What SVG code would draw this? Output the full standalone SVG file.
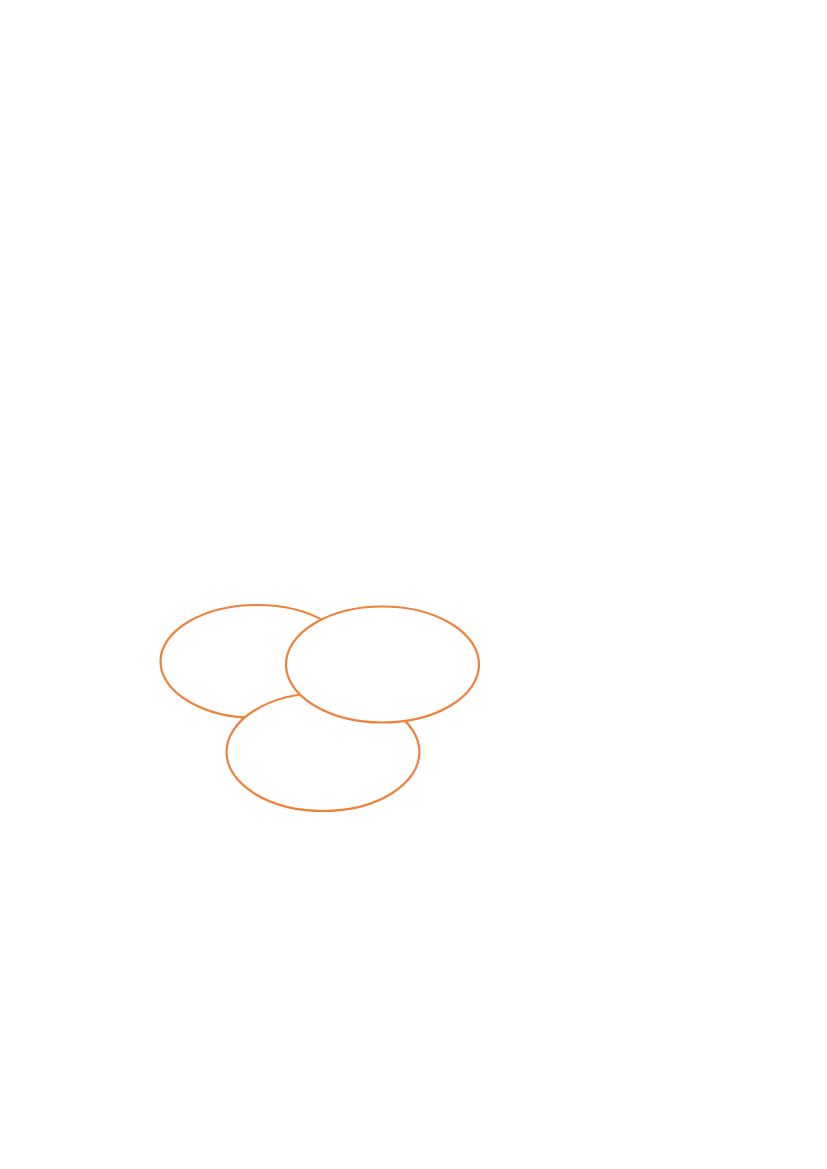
<svg xmlns="http://www.w3.org/2000/svg" width="827" height="1169" viewBox="0 0 827 1169">
<style>
.e{fill:#ffffff;stroke:#F0813A;stroke-width:2.2}
</style>
<rect width="827" height="1169" fill="#ffffff"/>
<g id="ellipse-left"><ellipse class="e" cx="257" cy="661.5" rx="96.5" ry="56.5"/></g>
<g id="ellipse-bottom"><ellipse class="e" cx="323" cy="752" rx="96.5" ry="59"/></g>
<g id="ellipse-right"><ellipse class="e" cx="382.5" cy="664.5" rx="96.5" ry="58"/></g>
<g id="connectors"></g>
</svg>
